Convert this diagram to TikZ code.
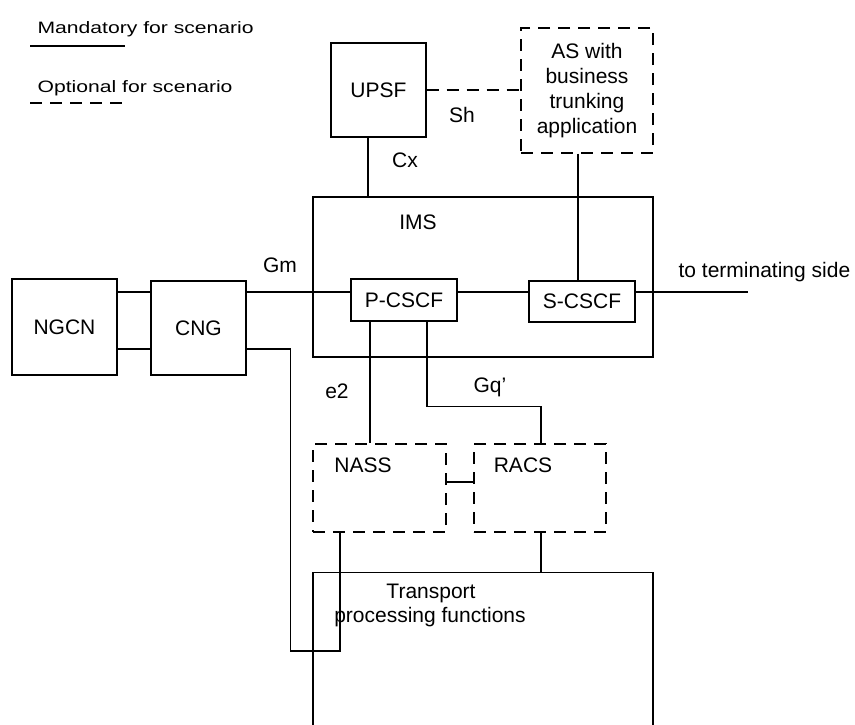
\documentclass[tikz,border=0pt]{standalone}
\usepackage{fontspec}
\usepackage{graphicx}
\setmainfont{Liberation Sans}
\begin{document}
\begin{tikzpicture}[x=1pt,y=-1pt, line width=1.3pt,
  box/.style={draw, rectangle, inner sep=0pt, font=\fontsize{21}{25}\selectfont, align=center},
  lbl/.style={inner sep=0pt, anchor=base, font=\fontsize{21}{25}\selectfont},
  legend/.style={inner sep=0pt, anchor=base west, font=\fontsize{16.5}{20}\selectfont},
  opt/.style={dash pattern=on 12pt off 8pt}]
\useasboundingbox (0,0) rectangle (855,724);
\clip (0,0) rectangle (855,724);

% legend
\node[legend] (mand) at (37,33) {\scalebox{1.28}[1]{Mandatory for scenario}};
\node[legend] (optl) at (37,92) {\scalebox{1.28}[1]{Optional for scenario}};
\coordinate (m1) at (30,46);
\coordinate (m2) at (125,46);
\coordinate (o1) at (30,103);
\coordinate (o2) at (125,103);
\draw (m1) -- (m2);
\draw[opt] (o1) -- (o2);

% boxes
\node[box, minimum width=95pt, minimum height=94pt] (upsf) at (378.5,90) {UPSF};
\node[box, opt, minimum width=132pt, minimum height=125pt] (as) at (587,90.5) {AS with\\business\\trunking\\application};
\node[box, minimum width=340pt, minimum height=160pt] (ims) at (483,277) {};
\node[box, minimum width=106pt, minimum height=42pt] (pcscf) at (404,300) {P-CSCF};
\node[box, minimum width=106pt, minimum height=41pt] (scscf) at (582,301.5) {S-CSCF};
\node[box, minimum width=105pt, minimum height=96pt] (ngcn) at (64.5,327) {NGCN};
\node[box, minimum width=95pt, minimum height=94pt] (cng) at (198.5,328) {CNG};
\node[box, opt, minimum width=133pt, minimum height=88pt] (nass) at (379.5,488) {};
\node[box, opt, minimum width=132pt, minimum height=88pt] (racs) at (540,488) {};
\node[box, minimum width=340pt, minimum height=240pt, anchor=north] (tpf) at (483,572) {};

% labels
\node[lbl] (imslbl) at (418,229) {IMS};
\node[lbl] (nasslbl) at (363,472) {NASS};
\node[lbl] (racslbl) at (523,472) {RACS};
\node[lbl] (tpflbl1) at (431,598) {Transport};
\node[lbl] (tpflbl2) at (430,622) {processing functions};
\node[lbl] (shlbl) at (462,122) {Sh};
\node[lbl] (cxlbl) at (405,167) {Cx};
\node[lbl] (gmlbl) at (280,272) {Gm};
\node[lbl] (e2lbl) at (337,398) {e2};
\node[lbl, anchor=base west] (gqlbl) at (473,392) {Gq'};
\node[lbl, anchor=base west] (termlbl) at (678,277) {to terminating side};
\coordinate (term) at (748,292);

% connectors
\draw[opt] (upsf.east) -- (upsf.east -| as.west);
\draw ([xshift=-10.5pt]upsf.south) -- ([xshift=-10.5pt]upsf.south |- ims.north);
\draw ([xshift=-9pt]as.south) -- ([xshift=-9pt]as.south |- scscf.north);
\draw ([yshift=8pt]pcscf.east) -- ([yshift=8pt]pcscf.east -| scscf.west);
\draw ([yshift=8pt]pcscf.east -| scscf.east) -- (term);
\draw ([yshift=8pt]pcscf.west -| cng.east) -- ([yshift=8pt]pcscf.west);
\draw ([yshift=35pt]ngcn.east) -- ([yshift=35pt]ngcn.east -| cng.west);
\draw ([yshift=-22pt]ngcn.east) -- ([yshift=-22pt]ngcn.east -| cng.west);
\draw ([yshift=-21pt]cng.east) -- ++(44,0) -- ++(0,302) -| ([xshift=-39.5pt]nass.south);
\draw ([xshift=-34pt]pcscf.south) -- ([xshift=-34pt]pcscf.south |- nass.north);
\draw ([xshift=23pt]pcscf.south) -- ++(0,85) -| ([xshift=1pt]racs.north);
\draw ([yshift=6pt]nass.east) -- ([yshift=6pt]nass.east -| racs.west);
\draw ([xshift=1pt]racs.south) -- ([xshift=1pt]racs.south |- tpf.north);
\end{tikzpicture}
\end{document}
